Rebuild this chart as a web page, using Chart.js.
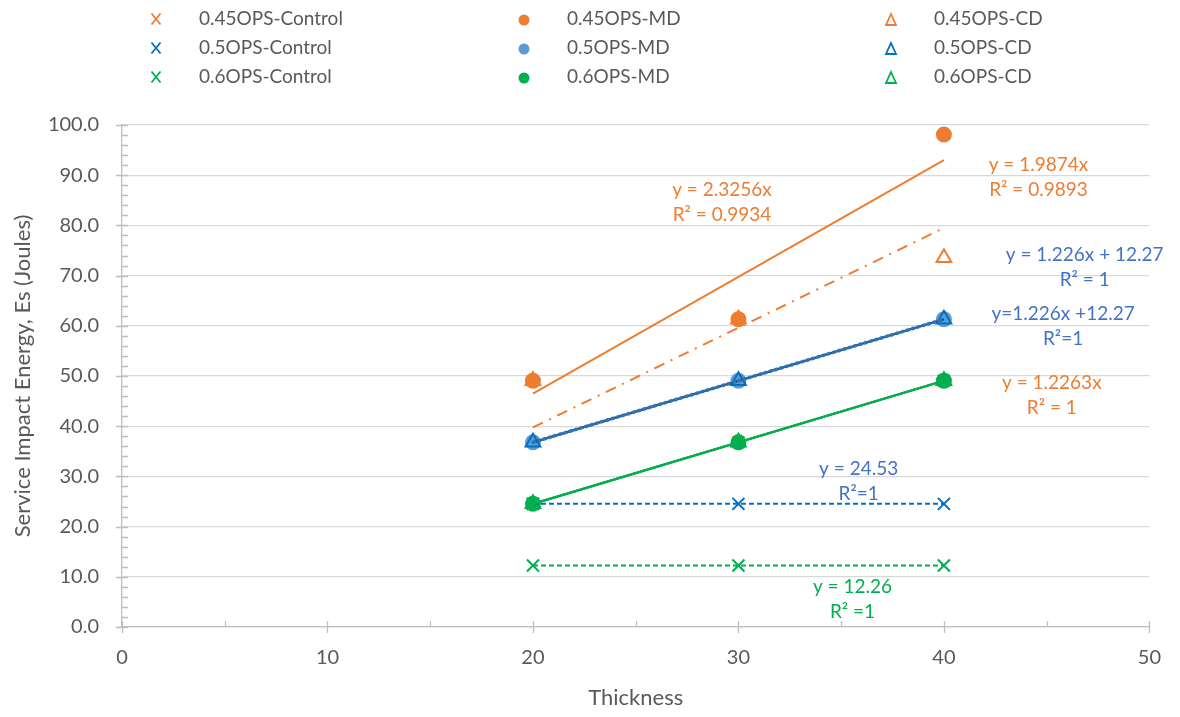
<!DOCTYPE html>
<html>
<head>
<meta charset="utf-8">
<script src="https://cdn.jsdelivr.net/npm/chart.js@4.4.0/dist/chart.umd.min.js"></script>
<style>
  html, body { margin: 0; padding: 0; background: #ffffff; }
  #wrap { width: 1180px; height: 717px; }
</style>
</head>
<body>
<div id="wrap"><canvas id="chart" width="1180" height="717"></canvas></div>
<script>
// ---- data ----
const thickness = [20, 30, 40];

const seriesNames = [
  '0.45OPS-Control', '0.45OPS-MD', '0.45OPS-CD',
  '0.5OPS-Control',  '0.5OPS-MD',  '0.5OPS-CD',
  '0.6OPS-Control',  '0.6OPS-MD',  '0.6OPS-CD'
];

const ops045Control = [24.53, 36.79, 49.05];
const ops045MD      = [49.05, 61.31, 98.10];
const ops045CD      = [49.05, 61.31, 73.57];
const ops05Control  = [24.53, 24.53, 24.53];
const ops05MD       = [36.79, 49.05, 61.31];
const ops05CD       = [36.79, 49.05, 61.31];
const ops06Control  = [12.26, 12.26, 12.26];
const ops06MD       = [24.53, 36.79, 49.05];
const ops06CD       = [24.53, 36.79, 49.05];

// fitted trendlines (y = slope * x + intercept), one per series
const trendSlopes     = [1.2263, 2.3256, 1.9874, 0,     1.226, 1.226, 0,     1.2263, 1.2263];
const trendIntercepts = [0,      0,      0,      24.53, 12.27, 12.27, 12.26, 0,      0];

// trendline equation labels
const trendLabelLines = [
  ['y = 2.3256x', 'R² = 0.9934'],
  ['y = 1.9874x', 'R² = 0.9893'],
  ['y = 1.226x + 12.27', 'R² = 1'],
  ['y=1.226x +12.27', 'R²=1'],
  ['y = 1.2263x', 'R² = 1'],
  ['y = 24.53', 'R²=1'],
  ['y = 12.26', 'R² =1']
];

const xTickValues = [0, 10, 20, 30, 40, 50];
const yTickValues = [0, 10, 20, 30, 40, 50, 60, 70, 80, 90, 100];

// ---- styling ----
const ORANGE = '#ED7D31';
const BLUE = '#0070C0';
const LIGHTBLUE = '#5B9BD5';
const GREEN = '#00B050';
const LABEL_BLUE = '#4472C4';
const TEXT = '#595959';
const FONT = 'Lato, "Open Sans", sans-serif';

const seriesValues = [ops045Control, ops045MD, ops045CD, ops05Control, ops05MD, ops05CD, ops06Control, ops06MD, ops06CD];
const seriesMarker = [
  { style: 'crossRot', color: ORANGE },
  { style: 'circle',   color: ORANGE },
  { style: 'triangle', color: ORANGE },
  { style: 'crossRot', color: BLUE },
  { style: 'circle',   color: LIGHTBLUE },
  { style: 'triangle', color: BLUE },
  { style: 'crossRot', color: GREEN },
  { style: 'circle',   color: GREEN },
  { style: 'triangle', color: GREEN }
];
const trendStyle = [
  { color: ORANGE,    dash: [],            width: 2 },
  { color: ORANGE,    dash: [],            width: 2 },
  { color: ORANGE,    dash: [11, 7, 2, 7], width: 2 },
  { color: BLUE,      dash: [5, 3],        width: 2 },
  { color: '#1F3F66', dash: [],            width: 2.25 },
  { color: '#2E75B6', dash: [1.5, 4],      width: 3.5 },
  { color: GREEN,     dash: [5, 3],        width: 2 },
  { color: GREEN,     dash: [],            width: 2.25 },
  { color: GREEN,     dash: [],            width: 2.25 }
];

// label anchor points in data units and colours
const trendLabelPlacement = [
  { x: 29.2,  y: 87.1, color: ORANGE },
  { x: 44.6,  y: 92.0, color: ORANGE },
  { x: 46.85, y: 74.1, color: LABEL_BLUE },
  { x: 45.8,  y: 62.4, color: LABEL_BLUE },
  { x: 45.25, y: 48.6, color: ORANGE },
  { x: 35.85, y: 31.5, color: LABEL_BLUE },
  { x: 35.55, y: 8.0,  color: GREEN }
];

// ---- datasets ----
const datasets = [];

seriesNames.forEach((name, i) => {
  const m = seriesMarker[i];
  datasets.push({
    type: 'scatter',
    label: name,
    data: thickness.map((t, k) => ({ x: t, y: seriesValues[i][k] })),
    pointStyle: m.style,
    pointRadius: m.style === 'circle' ? 7 : 8.5,
    pointBorderWidth: 2,
    pointBorderColor: m.color,
    pointBackgroundColor: m.style === 'circle' ? m.color : 'rgba(0,0,0,0)',
    showLine: false,
    // markers sit underneath the trendlines
    order: 100 - i
  });
});

seriesNames.forEach((name, i) => {
  const s = trendStyle[i];
  const x0 = Math.min(...thickness), x1 = Math.max(...thickness);
  datasets.push({
    type: 'line',
    label: name + ' trend',
    data: [x0, x1].map(x => ({ x: x, y: trendSlopes[i] * x + trendIntercepts[i] })),
    borderColor: s.color,
    borderWidth: s.width,
    borderDash: s.dash,
    borderCapStyle: s.dash.length && s.width > 2.5 ? 'round' : 'butt',
    pointRadius: 0,
    fill: false,
    tension: 0,
    order: 50 - i
  });
});

// ---- plugin: minor/major tick marks, legend and trendline labels ----
const decorations = {
  id: 'decorations',
  afterDraw(chart) {
    const ctx = chart.ctx;
    const xs = chart.scales.x, ys = chart.scales.y;
    const area = chart.chartArea;
    ctx.save();

    // tick marks
    ctx.strokeStyle = '#BFBFBF';
    ctx.lineWidth = 1.3;
    ctx.beginPath();
    for (let v = 0; v <= 100; v += 2) {
      const py = Math.round(ys.getPixelForValue(v)) + 0.5;
      const major = v % 10 === 0;
      ctx.moveTo(area.left - (major ? 6 : 0), py);
      ctx.lineTo(area.left + 6, py);
    }
    for (let v = 0; v <= 50; v += 5) {
      const px = Math.round(xs.getPixelForValue(v)) + 0.5;
      const major = v % 10 === 0;
      ctx.moveTo(px, area.bottom + (major ? 6 : 0));
      ctx.lineTo(px, area.bottom - 6);
    }
    ctx.stroke();

    // legend (three columns: Control / MD / CD)
    const colX = [156, 524, 891];
    const rowY = [19, 48, 77];
    ctx.font = '19px ' + FONT;
    ctx.textBaseline = 'middle';
    ctx.textAlign = 'left';
    seriesNames.forEach((name, i) => {
      const col = i % 3, row = Math.floor(i / 3);
      const cx = colX[col], cy = rowY[row];
      const m = seriesMarker[i];
      ctx.strokeStyle = m.color;
      ctx.fillStyle = m.color;
      ctx.lineWidth = 1.8;
      ctx.setLineDash([]);
      ctx.beginPath();
      if (m.style === 'crossRot') {
        ctx.moveTo(cx - 4.5, cy - 5.5); ctx.lineTo(cx + 4.5, cy + 5.5);
        ctx.moveTo(cx + 4.5, cy - 5.5); ctx.lineTo(cx - 4.5, cy + 5.5);
        ctx.stroke();
      } else if (m.style === 'circle') {
        ctx.arc(cx, cy + 1, 5.5, 0, Math.PI * 2);
        ctx.fill();
      } else {
        ctx.moveTo(cx, cy - 5);
        ctx.lineTo(cx + 5, cy + 6);
        ctx.lineTo(cx - 5, cy + 6);
        ctx.closePath();
        ctx.stroke();
      }
      ctx.fillStyle = TEXT;
      ctx.fillText(name, cx + 43, cy);
    });

    // trendline equations
    ctx.font = '19px ' + FONT;
    ctx.textAlign = 'center';
    trendLabelLines.forEach((lines, i) => {
      const p = trendLabelPlacement[i];
      const px = xs.getPixelForValue(p.x);
      const py = ys.getPixelForValue(p.y);
      ctx.fillStyle = p.color;
      lines.forEach((t, k) => ctx.fillText(t, px, py + k * 25));
    });

    ctx.restore();
  }
};

new Chart(document.getElementById('chart'), {
  type: 'scatter',
  data: { datasets },
  options: {
    responsive: false,
    animation: false,
    devicePixelRatio: 1,
    layout: { padding: { top: 125, right: 27, left: 0, bottom: 0 } },
    plugins: {
      legend: { display: false },
      tooltip: { enabled: false }
    },
    scales: {
      x: {
        type: 'linear',
        min: xTickValues[0],
        max: xTickValues[xTickValues.length - 1],
        afterBuildTicks: s => { s.ticks = xTickValues.map(v => ({ value: v })); },
        afterFit: s => { s.height = 90; },
        grid: { drawOnChartArea: false, drawTicks: false },
        border: { color: '#BFBFBF', width: 1.3 },
        ticks: { color: TEXT, font: { family: FONT, size: 20 }, padding: 19, maxRotation: 0 },
        title: { display: true, text: 'Thickness', color: TEXT, font: { family: FONT, size: 22 }, padding: { top: 0, bottom: 6 } }
      },
      y: {
        type: 'linear',
        min: yTickValues[0],
        max: yTickValues[yTickValues.length - 1],
        afterBuildTicks: s => { s.ticks = yTickValues.map(v => ({ value: v })); },
        afterFit: s => { s.width = 122; },
        grid: { color: '#D9D9D9', lineWidth: 1.3, drawTicks: false },
        border: { color: '#BFBFBF', width: 1.3 },
        ticks: { color: TEXT, font: { family: FONT, size: 20 }, padding: 23, callback: v => Number(v).toFixed(1) },
        title: { display: true, text: 'Service Impact Energy, Es (Joules)', color: TEXT, font: { family: FONT, size: 22 }, padding: { top: 10, bottom: 0 } }
      }
    }
  },
  plugins: [decorations]
});
</script>
</body>
</html>
